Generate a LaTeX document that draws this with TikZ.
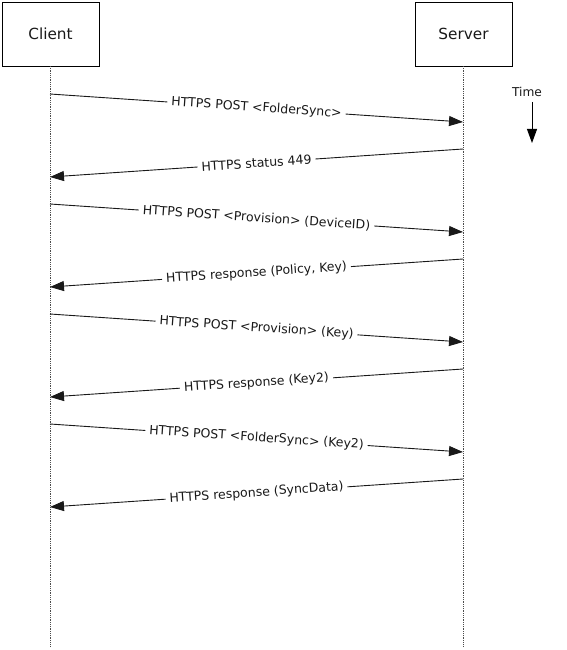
\documentclass[tikz,border=0pt]{standalone}
\usepackage{fontspec}
\setmainfont{DejaVu Sans}
\usetikzlibrary{arrows.meta}
\begin{document}
\begin{tikzpicture}[x=1pt,y=-1pt,
  actor/.style={draw=black,line width=0.8pt,minimum width=97pt,minimum height=64pt,inner sep=0pt,font=\fontsize{15.3}{18}\selectfont,text=black!90},
  lifeline/.style={draw=black!70,line width=0.6pt,dash pattern=on 0.9pt off 0.9pt},
  msg/.style={draw=black!90,line width=0.9pt,-{Triangle[length=14pt,width=10pt]}},
  lbl/.style={midway,sloped,fill=white,inner xsep=4pt,inner ysep=1pt,font=\fontsize{12.5}{14}\selectfont,text=black!90}]
\useasboundingbox (0,0) rectangle (566,650);
\node[actor] (client) at (50.5,34) {Client};
\node[actor] (server) at (463.5,34) {Server};
\coordinate (cend) at (50,647);
\coordinate (send) at (463,647);
\draw[lifeline] (50,66) -- (cend);
\draw[lifeline] (463,66) -- (send);
% message endpoints
\foreach \i/\y in {1/94,2/149,3/204,4/259,5/314,6/369,7/424,8/479}{
  \coordinate (c\i) at (50,\y);
  \coordinate (s\i) at (463,\y);
  \coordinate (cb\i) at (50,\y+28);
  \coordinate (sb\i) at (463,\y+28);
}
\draw[msg] (c1) -- (sb1) node[lbl] {HTTPS POST <FolderSync>};
\draw[msg] (s2) -- (cb2) node[lbl] {HTTPS status 449};
\draw[msg] (c3) -- (sb3) node[lbl] {HTTPS POST <Provision> (DeviceID)};
\draw[msg] (s4) -- (cb4) node[lbl] {HTTPS response (Policy, Key)};
\draw[msg] (c5) -- (sb5) node[lbl] {HTTPS POST <Provision> (Key)};
\draw[msg] (s6) -- (cb6) node[lbl] {HTTPS response (Key2)};
\draw[msg] (c7) -- (sb7) node[lbl] {HTTPS POST <FolderSync> (Key2)};
\draw[msg] (s8) -- (cb8) node[lbl] {HTTPS response (SyncData)};
% time
\node[font=\fontsize{12.2}{14}\selectfont,text=black!90] (time) at (527,92) {Time};
\coordinate (tstart) at (532,102);
\coordinate (tend) at (532,143);
\draw[msg,draw=black] (tstart) -- (tend);
\end{tikzpicture}
\end{document}
